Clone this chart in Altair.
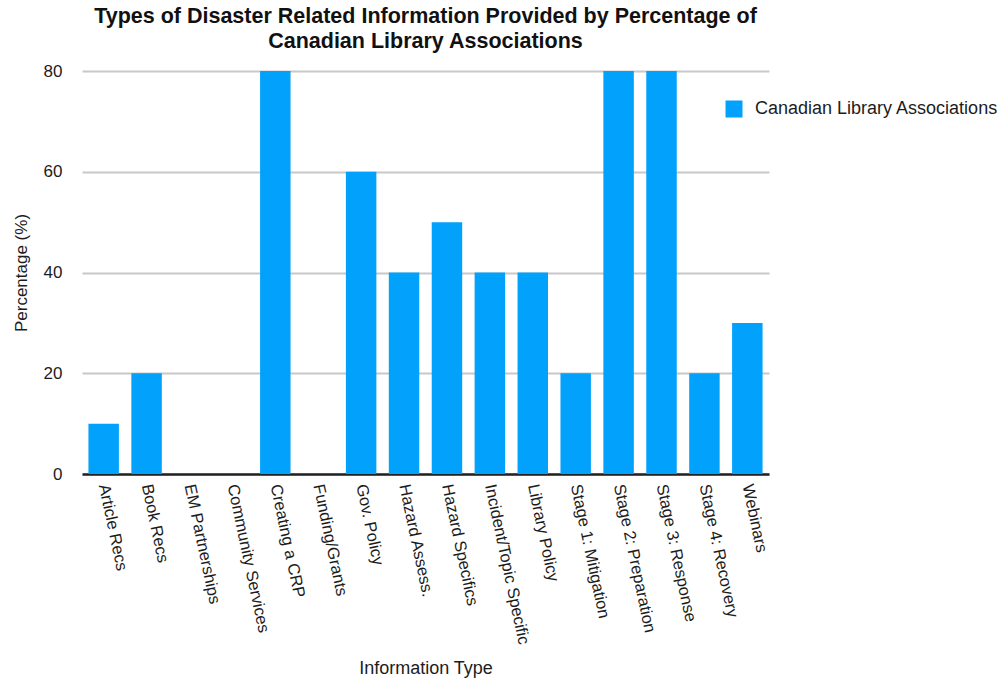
import altair as alt
import pandas as pd

categories = [
    "Article Recs", "Book Recs", "EM Partnerships", "Community Services",
    "Creating a CRP", "Funding/Grants", "Gov. Policy", "Hazard Assess.",
    "Hazard Specifics", "Incident/Topic Specific", "Library Policy",
    "Stage 1: Mitigation", "Stage 2: Preparation", "Stage 3: Response",
    "Stage 4: Recovery", "Webinars",
]
values = [10, 20, 0, 0, 80, 0, 60, 40, 50, 40, 40, 20, 80, 80, 20, 30]
series_name = "Canadian Library Associations"
y_ticks = [0, 20, 40, 60, 80]

df = pd.DataFrame({"Information Type": categories, "Percentage": values,
                   "series": [series_name] * len(categories)})

FONT = "Liberation Sans"
TXT = "#1c1c1c"

chart = alt.Chart(df).mark_bar(color="#02A1FC").encode(
    x=alt.X("Information Type:N", sort=categories,
            scale=alt.Scale(paddingInner=0.29, paddingOuter=0.15),
            axis=alt.Axis(title="Information Type", labelAngle=78, labelAlign="left",
                          labelBaseline="middle", labelPadding=10, ticks=False, grid=False,
                          labelFontSize=16.5, labelColor=TXT, labelFont=FONT,
                          domainColor="#222222", domainWidth=2.5,
                          titleFontSize=18, titleFontWeight="normal", titleColor=TXT,
                          titleFont=FONT, titleY=199, titleBaseline="alphabetic",
                          labelLimit=400)),
    y=alt.Y("Percentage:Q", scale=alt.Scale(domain=[0, 80]),
            axis=alt.Axis(title="Percentage (%)", values=y_ticks, ticks=False, domain=False,
                          labelFontSize=17, labelColor=TXT, labelFont=FONT, labelPadding=20,
                          gridColor="#c8c8c8", gridWidth=2,
                          titleFontSize=17, titleFontWeight="normal", titleColor=TXT,
                          titleFont=FONT, titleX=-61, titleY=201.5,
                          titleBaseline="middle", titleAlign="center")),
    fill=alt.Fill("series:N", scale=alt.Scale(domain=[series_name], range=["#02A1FC"]),
                  legend=alt.Legend(title=None, orient="none", legendX=643, legendY=29,
                                    symbolType="square", symbolSize=289, symbolStrokeWidth=0,
                                    labelFontSize=18, labelFont=FONT, labelColor=TXT,
                                    labelOffset=12, padding=0, labelLimit=400)),
).properties(
    width=687,
    height=403,
    background="white",
    autosize=alt.AutoSizeParams(type="none"),
    padding={"left": 82, "top": 71, "right": 232, "bottom": 205},
    title=alt.TitleParams(
        text=["Types of Disaster Related Information Provided by Percentage of",
              "Canadian Library Associations"],
        fontSize=21.5, fontWeight="bold", font=FONT, color="#111111",
        anchor="middle", frame="group", offset=10, lineHeight=25,
    ),
).configure_view(stroke=None, strokeWidth=0)

chart.save("out.html", embed_options={"renderer": "svg", "actions": False})
